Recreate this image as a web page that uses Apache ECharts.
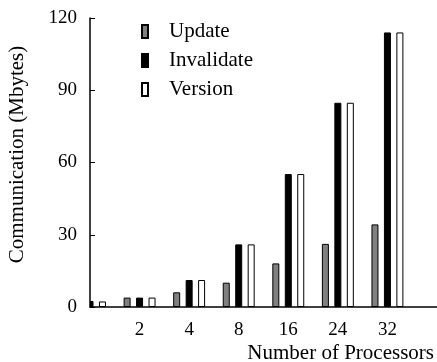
<!DOCTYPE html>
<html>
<head>
<meta charset="utf-8">
<script src="https://cdn.jsdelivr.net/npm/echarts@6/dist/echarts.min.js"></script>
<style>
  html, body { margin: 0; padding: 0; background: #fff; }
  #chart { width: 437px; height: 362px; }
</style>
</head>
<body>
<div id="chart"></div>
<script>
// processor counts; the trailing empty slot leaves room after 32
const processors = ['1', '2', '4', '8', '16', '24', '32', '']
const updateData = [1.5, 3.9, 6.1, 10.1, 18.1, 26.2, 34.3, null]
const invalidateData = [2.5, 3.9, 11.2, 26.0, 55.2, 84.8, 114.0, null]
const versionData = [2.3, 3.9, 11.2, 26.0, 55.2, 84.8, 114.0, null]
const yTicks = [0, 30, 60, 90, 120]

const font = 'Liberation Serif, Times New Roman, serif'
const gridLeft = 90
const gridTop = 18
const gridBottom = 55
const chart = echarts.init(document.getElementById('chart'))

const barBase = {
  type: 'bar',
  barWidth: 7,
  barGap: '78%',
  animation: false
}

chart.setOption({
  textStyle: { fontFamily: font },
  grid: { left: gridLeft, right: 0, top: gridTop, bottom: gridBottom, outerBoundsMode: 'none', containLabel: false },
  // bars of the first group that fall left of the y axis are hidden, as in the original plot
  graphic: [{
    type: 'rect',
    z: 10,
    silent: true,
    shape: { x: 0, y: 0, width: gridLeft, height: 362 - gridBottom + 1 },
    style: { fill: '#fff' }
  }],
  legend: {
    orient: 'vertical',
    left: 136,
    top: 16,
    itemWidth: 6,
    itemHeight: 13,
    itemGap: 8,
    icon: 'rect',
    z: 30,
    textStyle: { fontFamily: font, fontSize: 21, color: '#000', padding: [0, 0, 0, 16] }
  },
  xAxis: {
    type: 'category',
    data: processors,
    boundaryGap: false,
    z: 20,
    axisLine: { lineStyle: { color: '#000', width: 1.5 } },
    axisTick: { show: false },
    axisLabel: {
      fontFamily: font, fontSize: 19, color: '#000', margin: 14,
      formatter: (v, i) => (i === 0 ? '' : v)
    },
    name: 'Number of Processors',
    nameLocation: 'end',
    nameGap: 0,
    nameTextStyle: {
      fontFamily: font, fontSize: 21, color: '#000',
      align: 'right', verticalAlign: 'top', padding: [36, 3, 0, 0]
    }
  },
  yAxis: {
    type: 'value',
    min: yTicks[0],
    max: yTicks[yTicks.length - 1],
    interval: 30,
    z: 20,
    splitLine: { show: false },
    axisLine: { show: true, lineStyle: { color: '#000', width: 1.5 } },
    axisTick: { show: true, inside: true, length: 5, lineStyle: { color: '#000' } },
    axisLabel: { fontFamily: font, fontSize: 19, color: '#000', margin: 13 },
    name: 'Communication (Mbytes)',
    nameLocation: 'middle',
    nameGap: 62,
    nameTextStyle: { fontFamily: font, fontSize: 21, color: '#000', padding: [0, 0, 0, 16] }
  },
  series: [
    Object.assign({}, barBase, {
      name: 'Update', data: updateData,
      itemStyle: { color: '#808080', borderColor: '#000', borderWidth: 1 }
    }),
    Object.assign({}, barBase, {
      name: 'Invalidate', data: invalidateData,
      itemStyle: { color: '#000', borderColor: '#000', borderWidth: 1 }
    }),
    Object.assign({}, barBase, {
      name: 'Version', data: versionData,
      itemStyle: { color: '#fff', borderColor: '#000', borderWidth: 1 }
    })
  ]
})
</script>
</body>
</html>
